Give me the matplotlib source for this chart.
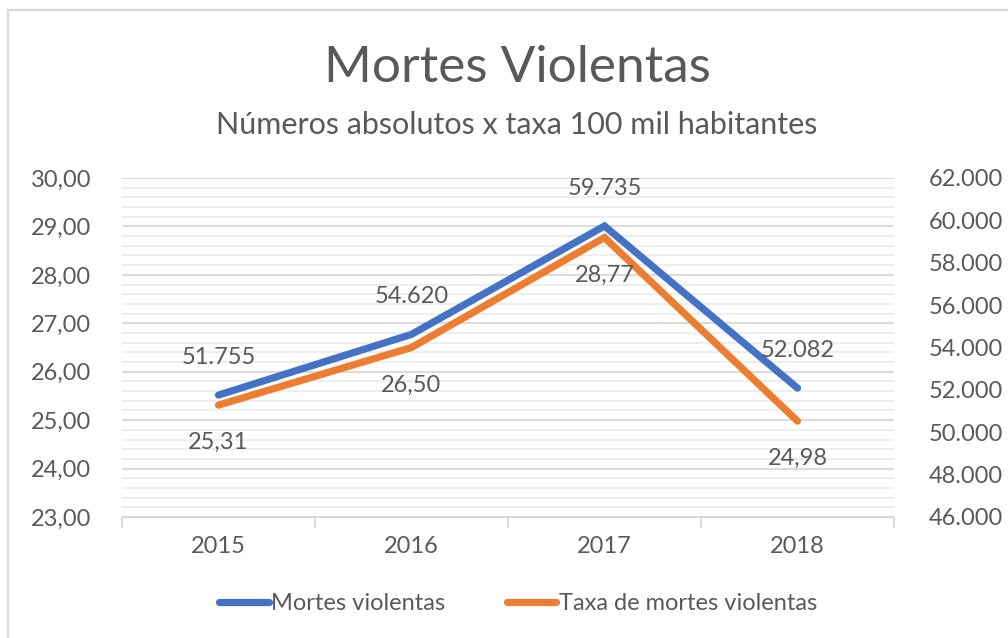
import matplotlib
matplotlib.use("Agg")
import matplotlib.pyplot as plt
from matplotlib.patches import Rectangle
from matplotlib.ticker import FuncFormatter, MultipleLocator

years = ["2015", "2016", "2017", "2018"]
mortes = [51755, 54620, 59735, 52082]
taxa = [25.31, 26.50, 28.77, 24.98]
mortes_labels = ["51.755", "54.620", "59.735", "52.082"]
taxa_labels = ["25,31", "26,50", "28,77", "24,98"]

plt.rcParams['font.family'] = ['Lato', 'DejaVu Sans']
TXT = "#595959"
BLUE = "#4472C4"
ORANGE = "#ED7D31"
FS = 17

fig = plt.figure(figsize=(10.08, 6.38), dpi=100)
fig.patch.set_facecolor("white")
fig.patches.append(Rectangle((8 / 1008, -0.1), 1.2, 1 - 10 / 638 + 0.1, transform=fig.transFigure,
                             fill=False, edgecolor="#D9D9D9", linewidth=1.6))

ax = fig.add_axes([122 / 1008, 1 - 517 / 638, (894 - 122) / 1008, (517 - 178) / 638])
ax2 = ax.twinx()

x = list(range(len(years)))
ax.set_xlim(-0.5, 3.5)
ax.set_ylim(23, 30)
ax2.set_ylim(46000, 62000)

ax.yaxis.set_major_locator(MultipleLocator(1))
ax.yaxis.set_minor_locator(MultipleLocator(0.2))
ax.grid(which="minor", axis="y", color="#EDEDED", linewidth=1.3)
ax.grid(which="major", axis="y", color="#D9D9D9", linewidth=1.3)
ax.set_axisbelow(True)
ax.yaxis.set_major_formatter(FuncFormatter(lambda v, p: f"{v:.2f}".replace(".", ",")))
ax2.yaxis.set_major_locator(MultipleLocator(2000))
ax2.yaxis.set_major_formatter(FuncFormatter(lambda v, p: f"{int(v):,}".replace(",", ".")))

ax.set_xticks([-0.5, 0.5, 1.5, 2.5, 3.5])
ax.set_xticklabels([])
ax.set_xticks(x, minor=True)
ax.set_xticklabels(years, minor=True)
ax.tick_params(axis="x", which="major", length=8, color="#D9D9D9", width=1.3)
ax.tick_params(axis="x", which="minor", length=0, pad=14, labelsize=FS, labelcolor=TXT)
ax.tick_params(axis="y", which="both", length=0, labelsize=FS, labelcolor=TXT, pad=22)
ax2.tick_params(axis="y", which="both", length=0, labelsize=FS, labelcolor=TXT, pad=25)

for a in (ax, ax2):
    for s in ("top", "left", "right"):
        a.spines[s].set_visible(False)
    a.spines["bottom"].set_color("#D9D9D9")
    a.spines["bottom"].set_linewidth(1.3)

l2, = ax.plot(x, taxa, color=ORANGE, linewidth=5.2, solid_capstyle="round", solid_joinstyle="miter", label="Taxa de mortes violentas")
l1, = ax2.plot(x, mortes, color=BLUE, linewidth=5.2, solid_capstyle="round", solid_joinstyle="miter", label="Mortes violentas")

for xi, v, lab in zip(x, mortes, mortes_labels):
    ax2.annotate(lab, (xi, v), xytext=(0, 27), textcoords="offset points", ha="center", va="center",
                 fontsize=FS, color=TXT)
for xi, v, lab in zip(x, taxa, taxa_labels):
    ax.annotate(lab, (xi, v), xytext=(0, -27), textcoords="offset points", ha="center", va="center",
                fontsize=FS, color=TXT)

fig.text(517 / 1008, 1 - 68 / 638, "Mortes Violentas", ha="center", va="center", fontsize=37, color=TXT)
fig.text(517 / 1008, 1 - 125 / 638, "Números absolutos x taxa 100 mil habitantes", ha="center", va="center",
         fontsize=22, color=TXT)

fig.legend(handles=[l1, l2], loc="center", bbox_to_anchor=(518 / 1008, 1 - 604 / 638), ncol=2,
           frameon=False, fontsize=FS, labelcolor=TXT, handlelength=2.1, handletextpad=0.1,
           columnspacing=2.6)

fig.savefig("out.png", dpi=100)
